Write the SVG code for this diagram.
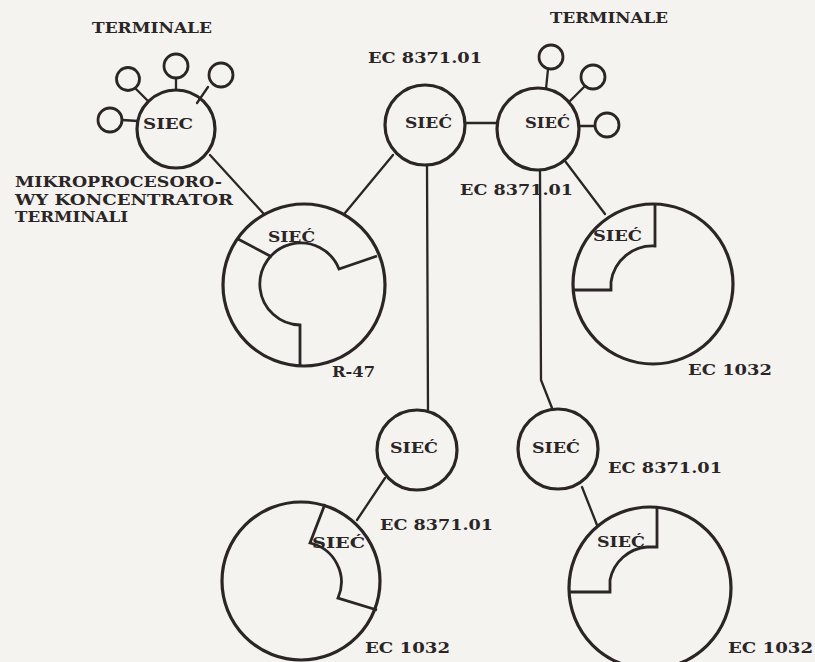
<svg xmlns="http://www.w3.org/2000/svg" width="815" height="662" viewBox="0 0 815 662">
<style>
  .bg{fill:#f4f3f0}
  .c{fill:none;stroke:#2b2526;stroke-width:3.2}
  .t{fill:none;stroke:#2b2526;stroke-width:2.8}
  .l{fill:none;stroke:#2b2526;stroke-width:2.3;stroke-linecap:round;stroke-linejoin:round}
  .cut{fill:none;stroke:#2b2526;stroke-width:2.8;stroke-linejoin:miter}
  text{font-family:"DejaVu Serif","Liberation Serif",serif;font-weight:bold;font-size:14.5px;fill:#2b2526}
</style>
<rect class="bg" x="0" y="0" width="815" height="662"/>

<g id="connectors">
  <!-- top-left terminals -->
  <line class="l" x1="122" y1="120" x2="138" y2="121"/>
  <line class="l" x1="135" y1="88" x2="147" y2="100"/>
  <line class="l" x1="176" y1="78" x2="176" y2="90"/>
  <line class="l" x1="208" y1="87" x2="197" y2="103"/>
  <!-- top-right terminals -->
  <line class="l" x1="548" y1="69" x2="546" y2="89"/>
  <line class="l" x1="585" y1="86" x2="570" y2="101"/>
  <line class="l" x1="580" y1="126" x2="595" y2="126"/>
  <!-- network links -->
  <line class="l" x1="210" y1="155" x2="263" y2="213"/>
  <line class="l" x1="393" y1="155" x2="345" y2="213"/>
  <line class="l" x1="427" y1="165" x2="428" y2="410"/>
  <line class="l" x1="465" y1="123" x2="498" y2="123"/>
  <polyline class="l" points="540,170 541,380 552,408"/>
  <line class="l" x1="565" y1="161" x2="605" y2="214"/>
  <line class="l" x1="385" y1="478" x2="357" y2="520"/>
  <line class="l" x1="582" y1="487" x2="597" y2="525"/>
</g>

<g id="concentrator">
  <circle class="c" cx="176" cy="129" r="39"/>
  <circle class="t" cx="110" cy="120" r="12"/>
  <circle class="t" cx="128" cy="79" r="11.5"/>
  <circle class="t" cx="176" cy="66" r="12"/>
  <circle class="t" cx="221" cy="75" r="12"/>
  <text x="143" y="129" textLength="50" lengthAdjust="spacingAndGlyphs">SIEC</text>
  <text x="92" y="33" textLength="120" lengthAdjust="spacingAndGlyphs">TERMINALE</text>
  <text x="15" y="187" textLength="207" lengthAdjust="spacingAndGlyphs">MIKROPROCESORO-</text>
  <text x="15" y="205" textLength="218" lengthAdjust="spacingAndGlyphs">WY KONCENTRATOR</text>
  <text x="15" y="222" textLength="113" lengthAdjust="spacingAndGlyphs">TERMINALI</text>
</g>

<g id="ec8371-center">
  <circle class="c" cx="425" cy="125" r="40"/>
  <text x="405" y="128" textLength="47" lengthAdjust="spacingAndGlyphs">SIEĆ</text>
  <text x="368" y="63" textLength="114" lengthAdjust="spacingAndGlyphs">EC 8371.01</text>
</g>

<g id="ec8371-right">
  <circle class="c" cx="538" cy="129" r="41"/>
  <circle class="t" cx="551" cy="57" r="12"/>
  <circle class="t" cx="593" cy="77" r="12"/>
  <circle class="t" cx="607" cy="125" r="12"/>
  <text x="525" y="128" textLength="45" lengthAdjust="spacingAndGlyphs">SIEĆ</text>
  <text x="550" y="23" textLength="118" lengthAdjust="spacingAndGlyphs">TERMINALE</text>
  <text x="460" y="195" textLength="113" lengthAdjust="spacingAndGlyphs">EC 8371.01</text>
</g>

<g id="r47">
  <circle class="c" cx="304" cy="285" r="81"/>
  <path class="cut" d="M238,239 L272,257 M377,256 L339,269 A41,41 0 1 0 300,325 L300,365"/>
  <text x="268" y="242" textLength="47" lengthAdjust="spacingAndGlyphs">SIEĆ</text>
  <text x="332" y="377" textLength="43" lengthAdjust="spacingAndGlyphs">R-47</text>
</g>

<g id="ec1032-right">
  <circle class="c" cx="653" cy="284" r="80"/>
  <path class="cut" d="M655,205 V246 A42,42 0 0 0 611,282 V290 H574"/>
  <text x="593" y="241" textLength="49" lengthAdjust="spacingAndGlyphs">SIEĆ</text>
  <text x="688" y="375" textLength="84" lengthAdjust="spacingAndGlyphs">EC 1032</text>
</g>

<g id="ec8371-bottom-center">
  <circle class="c" cx="417" cy="450" r="40"/>
  <text x="390" y="453" textLength="48" lengthAdjust="spacingAndGlyphs">SIEĆ</text>
  <text x="380" y="530" textLength="113" lengthAdjust="spacingAndGlyphs">EC 8371.01</text>
</g>

<g id="ec8371-bottom-right">
  <circle class="c" cx="558" cy="449" r="40"/>
  <text x="532" y="453" textLength="48" lengthAdjust="spacingAndGlyphs">SIEĆ</text>
  <text x="608" y="473" textLength="114" lengthAdjust="spacingAndGlyphs">EC 8371.01</text>
</g>

<g id="ec1032-bottom-left">
  <circle class="c" cx="301" cy="581" r="79"/>
  <path class="cut" d="M325,504 L310,543 A40,40 0 0 1 338,598 L377,610"/>
  <text x="312" y="548" textLength="53" lengthAdjust="spacingAndGlyphs">SIEĆ</text>
  <text x="365" y="653" textLength="85" lengthAdjust="spacingAndGlyphs">EC 1032</text>
</g>

<g id="ec1032-bottom-right">
  <circle class="c" cx="650" cy="588" r="81"/>
  <path class="cut" d="M657,507 V547 H647 A41,41 0 0 0 610,580 V592 H570"/>
  <text x="597" y="547" textLength="48" lengthAdjust="spacingAndGlyphs">SIEĆ</text>
  <text x="728" y="653" textLength="85" lengthAdjust="spacingAndGlyphs">EC 1032</text>
</g>
</svg>
